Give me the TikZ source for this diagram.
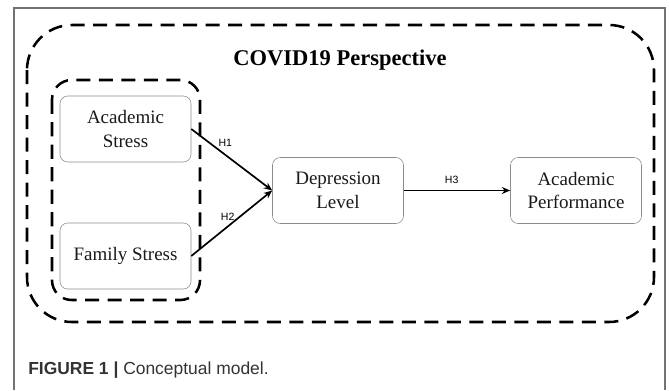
\documentclass[tikz,border=0pt]{standalone}
\usepackage{fontspec}
\setmainfont{Liberation Serif}
\newfontfamily\capfont{Liberation Sans}
\usetikzlibrary{arrows.meta}

\begin{document}
\begin{tikzpicture}[x=0.025cm, y=-0.025cm,
        box/.style={draw=black!45, rounded corners=5.5pt, minimum width=3.275cm, minimum height=1.65cm, align=center, font={\fontsize{13.5}{17}\selectfont}, text=black!90},
        hyp/.style={font={\capfont\fontsize{7.5}{9}\selectfont}, inner sep=1pt},
        dashbox/.style={line width=1.8pt, dash pattern=on 10pt off 6pt},
        link/.style={line width=1.2pt, -{Stealth[length=6pt,width=5pt]}}]
        \useasboundingbox (0, 0) rectangle (669, 390);
        \draw[black!55, line width=0.8pt] (14, 390) -- (14, 8) -- (665, 8) -- (665, 390);

        \draw[dashbox, rounded corners=32pt] (27, 25) rectangle (654, 322);
        \draw[dashbox, rounded corners=14pt] (52, 80) rectangle (200, 300);
        \node[font = {\fontsize{16}{19}\selectfont\bfseries}] (title) at (340, 60) {COVID19 Perspective};

        \node[box] (acad) at (125.5, 129) {Academic\\Stress};
        \node[box] (fam) at (125.5, 256) {Family Stress};
        \node[box] (depr) at (338, 190.5) {Depression\\Level};
        \node[box] (perf) at (576, 190.5) {Academic\\Performance};

        \draw[link] (acad.east) -- node[hyp, pos=0.42, above=4pt] (h1) {H1} (depr.west);
        \draw[link] (fam.east) -- node[hyp, pos=0.45, above=3pt] (h2) {H2} (depr.west);
        \draw[link] (depr.east) -- node[hyp, pos=0.45, above=3pt] (h3) {H3} (perf.west);

        \node[anchor=west, inner sep=0pt, text=black!80, font={\capfont\fontsize{12.4}{15}\selectfont}] (cap) at (28, 370) {\textbf{FIGURE 1} \textbf{|} Conceptual model.};
    \end{tikzpicture}
\end{document}
